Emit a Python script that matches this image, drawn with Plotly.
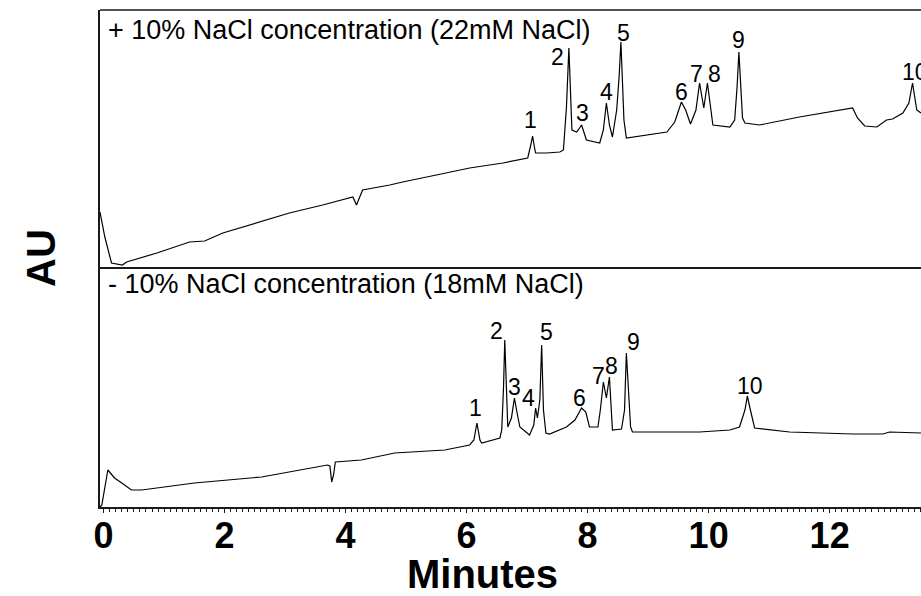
import plotly.graph_objects as go

# Retention time (min) and detector response (arbitrary AU units) for each run
time_22mm = [-0.06, 0.02, 0.13, 0.31, 0.38, 0.88, 1.42, 1.67, 1.97, 2.53, 3.07, 3.62,
             4.12, 4.18, 4.28, 4.73, 4.94, 5.50, 6.05, 6.60, 7.01, 7.06, 7.09, 7.12, 7.14, 7.32,
             7.54, 7.60, 7.65, 7.69, 7.72, 7.74, 7.82, 7.90, 7.98, 8.20, 8.26, 8.31, 8.36, 8.41,
             8.48, 8.52, 8.55, 8.58, 8.60, 8.64, 8.74, 9.31, 9.44, 9.55, 9.62, 9.70, 9.79, 9.85,
             9.92, 9.98, 10.07, 10.35, 10.43, 10.47, 10.50, 10.53, 10.56, 10.60, 10.84, 11.50, 12.38,
             12.46, 12.58, 12.78, 12.94, 13.04, 13.21, 13.31, 13.37, 13.44, 13.51]
signal_22mm = [55, 30, 4, 2, 5, 14, 25, 26, 34, 44, 54, 62,
               70, 62, 77, 82, 85, 92, 99, 104, 109, 122, 131, 120, 114, 114,
               115, 117, 160, 219, 165, 137, 135, 142, 127, 124, 137, 164, 142, 130,
               157, 190, 225, 180, 147, 129, 130, 135, 145, 165, 157, 143, 157, 184,
               159, 184, 142, 140, 147, 180, 215, 175, 149, 144, 142, 150, 159,
               149, 141, 140, 147, 148, 154, 164, 184, 157, 154]

time_18mm = [-0.06, -0.03, 0.07, 0.18, 0.30, 0.46, 0.63, 1.50, 2.61, 3.70, 3.74, 3.77,
             3.80, 3.83, 4.26, 4.81, 5.64, 6.05, 6.12, 6.17, 6.22, 6.25, 6.55, 6.58,
             6.61, 6.63, 6.66, 6.68, 6.74, 6.79, 6.84, 6.88, 7.04, 7.11, 7.14, 7.17, 7.21, 7.24,
             7.27, 7.31, 7.37, 7.65, 7.79, 7.90, 7.97, 8.03, 8.17, 8.21, 8.26, 8.31,
             8.36, 8.41, 8.56, 8.61, 8.64, 8.68, 8.71, 8.74, 9.85, 10.35, 10.51, 10.60,
             10.64, 10.69, 10.76, 11.34, 12.38, 12.88, 12.99, 13.51]
signal_18mm = [0, 2, 37, 29, 24, 17, 17, 24, 30, 42, 41, 25,
               32, 45, 47, 54, 57, 62, 67, 84, 67, 64, 69, 77,
               120, 167, 115, 80, 89, 109, 92, 80, 72, 82, 99, 89, 107, 162,
               97, 74, 73, 80, 87, 99, 95, 80, 80, 97, 125, 109,
               130, 77, 78, 97, 154, 107, 80, 75, 75, 77, 80, 97,
               111, 97, 79, 75, 73, 73, 75, 74]

# Peak numbers and where their labels sit (time, response)
peak_names = ["1", "2", "3", "4", "5", "6", "7", "8", "9", "10"]
label_time_22mm = [7.06, 7.50, 7.92, 8.31, 8.60, 9.55, 9.80, 10.10, 10.50, 13.41]
label_sig_22mm = [147, 210, 154, 175, 234, 175, 193, 193, 227, 195]
label_time_18mm = [6.15, 6.50, 6.79, 7.02, 7.32, 7.87, 8.18, 8.40, 8.76, 10.69]
label_sig_18mm = [99, 176, 120, 109, 175, 109, 131, 141, 165, 121]

panel_titles = ["+ 10% NaCl concentration (22mM NaCl)",
                "- 10% NaCl concentration (18mM NaCl)"]
x_ticks = [0, 2, 4, 6, 8, 10, 12]

FONT = "Arial, Liberation Sans, sans-serif"
LINE = "#1a1a1a"
split = 240 / 497  # fraction of plot height taken by the lower panel

fig = go.Figure()
fig.add_trace(go.Scatter(x=time_18mm, y=signal_18mm, mode="lines",
                         line=dict(color="black", width=1.2),
                         xaxis="x", yaxis="y", showlegend=False))
fig.add_trace(go.Scatter(x=time_22mm, y=signal_22mm, mode="lines",
                         line=dict(color="black", width=1.2),
                         xaxis="x2", yaxis="y2", showlegend=False))

annotations = []
for name, t, s in zip(peak_names, label_time_22mm, label_sig_22mm):
    annotations.append(dict(x=t, y=s, xref="x2", yref="y2", text=name,
                            showarrow=False, font=dict(family=FONT, size=23, color="black"),
                            xanchor="center", yanchor="middle"))
for name, t, s in zip(peak_names, label_time_18mm, label_sig_18mm):
    annotations.append(dict(x=t, y=s, xref="x", yref="y", text=name,
                            showarrow=False, font=dict(family=FONT, size=23, color="black"),
                            xanchor="center", yanchor="middle"))

annotations.append(dict(x=0.007, y=(497 - 20) / 497, xref="paper", yref="paper",
                        text=panel_titles[0], showarrow=False, xanchor="left",
                        yanchor="middle", font=dict(family=FONT, size=27, color="black")))
annotations.append(dict(x=0.007, y=(507 - 284) / 497, xref="paper", yref="paper",
                        text=panel_titles[1], showarrow=False, xanchor="left",
                        yanchor="middle", font=dict(family=FONT, size=27, color="black")))
annotations.append(dict(x=(482 - 100) / 821, y=(507 - 574) / 497, xref="paper", yref="paper",
                        text="Minutes", showarrow=False, xanchor="center", yanchor="middle",
                        font=dict(family=FONT, size=40, color="black", weight="bold")))
annotations.append(dict(x=(41 - 100) / 821, y=(507 - 258) / 497, xref="paper", yref="paper",
                        text="AU", showarrow=False, textangle=-90, xanchor="center",
                        yanchor="middle",
                        font=dict(family=FONT, size=40, color="black", weight="bold")))

shapes = [
    dict(type="line", xref="paper", yref="paper", x0=0, x1=1, y0=1, y1=1,
         line=dict(color=LINE, width=1.5)),
]

x_range = [-0.06, 13.51]
fig.update_layout(
    width=921, height=596,
    margin=dict(l=100, r=0, t=10, b=89, pad=0),
    paper_bgcolor="white", plot_bgcolor="white",
    showlegend=False,
    annotations=annotations,
    shapes=shapes,
    xaxis=dict(domain=[0, 1], range=x_range, anchor="y",
               showline=True, linecolor=LINE, linewidth=1.5,
               ticks="outside", ticklen=4, tickwidth=1, tickcolor=LINE,
               tickmode="array", tickvals=x_ticks, ticktext=[str(v) for v in x_ticks],
               ticklabelstandoff=-8,
               tickfont=dict(family=FONT, size=36, color="black", weight="bold"),
               minor=dict(ticks="outside", ticklen=3, tickwidth=1, tickcolor=LINE,
                          dtick=0.1, tick0=0, showgrid=False),
               showgrid=False, zeroline=False),
    xaxis2=dict(domain=[0, 1], range=x_range, anchor="y2", matches="x",
                showline=True, linecolor=LINE, linewidth=1.5,
                showticklabels=False, ticks="", showgrid=False, zeroline=False),
    yaxis=dict(domain=[0, split], range=[0, 240], anchor="x",
               showline=True, linecolor=LINE, linewidth=1.5,
               showticklabels=False, ticks="", showgrid=False, zeroline=False),
    yaxis2=dict(domain=[split, 1], range=[0, 257], anchor="x2",
                showline=True, linecolor=LINE, linewidth=1.5,
                showticklabels=False, ticks="", showgrid=False, zeroline=False),
)

fig.write_html("out.html")
